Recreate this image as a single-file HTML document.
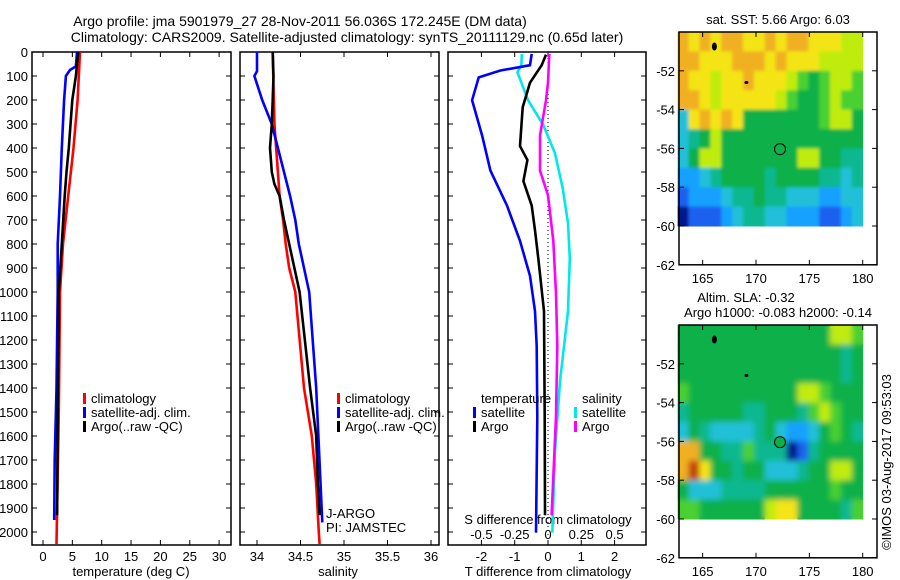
<!DOCTYPE html>
<html><head><meta charset="utf-8"><style>
body{margin:0;background:#fff;}
svg{display:block;font-family:"Liberation Sans",sans-serif;}
text{font-size:13px;fill:#000;}
</style></head><body>
<svg id="c" width="900" height="580" viewBox="0 0 900 580">
<defs>
<filter id="b1" x="-0.1" y="-0.1" width="1.2" height="1.2"><feGaussianBlur stdDeviation="1.5"/></filter>
<filter id="b2" x="-0.1" y="-0.1" width="1.2" height="1.2"><feGaussianBlur stdDeviation="3"/></filter>
</defs>
<text x="300" y="26" text-anchor="middle" style="font-size:14px">Argo profile: jma 5901979_27 28-Nov-2011 56.036S 172.245E (DM data)</text>
<text x="347" y="42" text-anchor="middle" style="font-size:14px">Climatology: CARS2009. Satellite-adjusted climatology: synTS_20111129.nc (0.65d later)</text>
<g id="g"></g>
</svg>
<script>
// ---- profile data (depth in m) ----
const tClimDepth=[0,200,400,600,800,1000,1500,2050];
const tClim=[6.3,5.9,5.2,4.3,3.4,2.9,2.7,2.3];
const tSatDepth=[0,60,75,100,200,400,600,800,1000,1400,1700,1950];
const tSat=[5.8,5.6,4.6,3.9,3.6,3.2,2.9,2.5,2.5,2.3,2.0,1.9];
const tArgoDepth=[0,100,200,400,500,600,800,1000,1500,1930];
const tArgo=[6.0,5.6,5.0,4.4,4.0,3.7,3.2,2.7,2.5,2.4];
const sClimDepth=[0,300,500,600,700,800,900,1000,1400,1600,1800,2000,2050];
const sClim=[34.18,34.2,34.24,34.26,34.3,34.33,34.37,34.44,34.54,34.63,34.68,34.71,34.72];
const sSatDepth=[0,80,100,200,300,400,500,600,700,800,900,1000,1400,1960];
const sSat=[34.0,34.0,33.97,34.06,34.17,34.24,34.31,34.38,34.44,34.48,34.54,34.6,34.68,34.75];
const sArgoDepth=[0,100,200,300,400,500,550,600,700,800,900,1000,1400,1600,1800,1930];
const sArgo=[34.18,34.19,34.18,34.17,34.15,34.17,34.2,34.26,34.31,34.37,34.43,34.49,34.61,34.68,34.7,34.72];
const dTSatDepth=[8,55,77,106,201,348,494,640,787,933,1080,1226,1520,2003];
const dTSat=[-0.49,-0.54,-1.43,-2.08,-2.28,-1.98,-1.73,-1.23,-0.84,-0.54,-0.39,-0.34,-0.32,-0.36];
const dTArgoDepth=[11,55,128,230,392,450,538,640,743,860,1080,1520,1930];
const dTArgo=[-0.06,-0.19,-0.54,-0.76,-0.84,-0.62,-0.74,-0.49,-0.39,-0.29,-0.12,-0.1,-0.09];
const dSSatDepth=[8,55,84,128,201,304,421,567,713,860,1080,1373,1666,2003];
const dSSat=[-0.197,-0.2,-0.23,-0.2,-0.15,-0.035,0.052,0.11,0.15,0.164,0.15,0.09,0.052,0.032];
const dSArgoDepth=[8,128,201,348,494,597,787,1006,1226,1520,1930];
const dSArgo=[0.01,0,-0.015,-0.06,-0.06,0,0.04,0.06,0.07,0.06,0.027];
const depthTicks=[0,100,200,300,400,500,600,700,800,900,1000,1100,1200,1300,1400,1500,1600,1700,1800,1900,2000];
const tTicks=[0,5,10,15,20,25,30];
const sTicks=[34,34.5,35,35.5,36];
const dTTicks=[-2,-1,0,1,2];
const dSTicks=[-0.5,-0.25,0,0.25,0.5];
const dSTickLabels=["-0.5","-0.25","0","0.25","0.5"];
// ---- map grids (rows lat -50..-60, cols lon 162.66..180), colour level 0-10 ----
const sstGrid=["98989988989988877","99888999898887777","98878898887656776","99878888876556766","38989855555556775","34575555555555555","35775555555775544","22345555455554434","12223445443332233","01112344332221123"];
const slaGrid=["55555555555555776","55555555555555545","55555555555555545","65555555555776555","45555544555467655","35433334532235654","99554464440145555","9A855455333455775","53334444555555655","66555555788555546"];
const palette=["#00188c","#1a60f0","#18a0ff","#20c0d8","#10b890","#0cb048","#48d030","#c0ec10","#f4e418","#f0b020","#c04010"];

const NS="http://www.w3.org/2000/svg";
const G=document.getElementById('g');
function mk(tag,a,parent){const e=document.createElementNS(NS,tag);for(const k in a)e.setAttribute(k,a[k]);(parent||G).appendChild(e);return e;}
function txt(x,y,s,anchor,parent){const t=mk('text',{x:x,y:y,'text-anchor':anchor||'middle'},parent);t.textContent=s;return t;}
const yD=d=>52+d*0.24;
function stepLine(xs,ds,fx,color,name){
  let p=[];for(let i=0;i<xs.length;i++){p.push(fx(xs[i]).toFixed(1)+','+yD(ds[i]).toFixed(1));}
  const l=mk('polyline',{points:p.join(' '),fill:'none',stroke:color,'stroke-width':2.6,'stroke-linejoin':'miter'});
  
  
}
function panel(x0,x1,name){
  const g=mk('g',{});
  
  
  mk('rect',{x:x0,y:52,width:x1-x0,height:493,fill:'none',stroke:'#000','stroke-width':1.5},g);
  depthTicks.forEach(d=>{const y=yD(d);mk('line',{x1:x0,x2:x0+5,y1:y,y2:y,stroke:'#000'},g);mk('line',{x1:x1-5,x2:x1,y1:y,y2:y,stroke:'#000'},g);});
  return g;
}
function xticks(g,ticks,labels,fx,ylab){
  ticks.forEach((v,i)=>{const x=fx(v);mk('line',{x1:x,x2:x,y1:545,y2:540,stroke:'#000'},g);mk('line',{x1:x,x2:x,y1:52,y2:57,stroke:'#000'},g);if(labels)txt(x,ylab,labels[i],'middle',g);});
}
// Panel 1
const fT=v=>43+5.87*v;
let p1=panel(32,231,'temperature-panel');
depthTicks.forEach(d=>{const t=txt(28,yD(d)+5,String(d),'end');});
xticks(p1,tTicks,tTicks.map(String),fT,561);
txt(131,576,'temperature (deg C)','middle',p1);
stepLine(tClim,tClimDepth,fT,'#f00','temp-climatology-line');
stepLine(tSat,tSatDepth,fT,'#00f','temp-satellite-line');
stepLine(tArgo,tArgoDepth,fT,'#000','temp-argo-line');
function legend(x,y,items,parent){items.forEach((it,i)=>{mk('rect',{x:x,y:y+i*14-10,width:3,height:11,fill:it[1]},parent);txt(x+8,y+i*14,it[0],'start',parent);});}
const lg1=mk('g',{});
legend(83,403,[['climatology','#f00'],['satellite-adj. clim.','#00f'],['Argo(..raw -QC)','#000']],lg1);
// Panel 2
const fS=v=>257+87*(v-34);
let p2=panel(240,439,'salinity-panel');
xticks(p2,sTicks,sTicks.map(String),fS,561);
txt(338,576,'salinity','middle',p2);
stepLine(sClim,sClimDepth,fS,'#f00','sal-climatology-line');
stepLine(sSat,sSatDepth,fS,'#00f','sal-satellite-line');
stepLine(sArgo,sArgoDepth,fS,'#000','sal-argo-line');
const lg2=mk('g',{});
legend(337,403,[['climatology','#f00'],['satellite-adj. clim.','#00f'],['Argo(..raw -QC)','#000']],lg2);
txt(326,518,'J-ARGO','start',p2);txt(326,532,'PI: JAMSTEC','start',p2);
// Panel 3
const fDT=v=>548+33.3*v, fDS=v=>548+133.2*v;
let p3=panel(448,646,'difference-panel');
xticks(p3,dTTicks,dTTicks.map(String),fDT,561);
dSTicks.forEach((v,i)=>txt(fDS(v),539,dSTickLabels[i],'middle',p3));
txt(548,524,'S difference from climatology','middle',p3);
txt(548,576,'T difference from climatology','middle',p3);
mk('line',{x1:548,x2:548,y1:54,y2:543,stroke:'#000','stroke-dasharray':'1,3'},p3);
stepLine(dSSat,dSSatDepth,fDS,'#00e8e8','sal-diff-satellite-line');
stepLine(dSArgo,dSArgoDepth,fDS,'#f0f','sal-diff-argo-line');
stepLine(dTSat,dTSatDepth,fDT,'#00f','temp-diff-satellite-line');
stepLine(dTArgo,dTArgoDepth,fDT,'#000','temp-diff-argo-line');
const lg3=mk('g',{});
txt(481,403,'temperature','start',lg3);txt(582,403,'salinity','start',lg3);
legend(473,417,[['satellite','#00f'],['Argo','#000']],lg3);
legend(574,417,[['satellite','#00e8e8'],['Argo','#f0f']],lg3);
// Maps
let mapCount=0;
function map(top,grid,name,filledCircle,blur){
  const g=mk('g',{});
  const fx=lon=>756+10.67*(lon-170), fy=lat=>top+19.4*(-50-lat);
  const nc=grid[0].length, lon0=162.66, dl=(180-lon0)/nc;
  const cid='clip'+(mapCount++);
  const cp=mk('clipPath',{id:cid},g);
  mk('rect',{x:fx(lon0),y:fy(-50),width:fx(180)-fx(lon0),height:fy(-60)-fy(-50)},cp);
  function drawCells(parent){
    grid.forEach((row,r)=>{for(let c=0;c<nc;c++){const v=parseInt(row[c],16);
      const cell=mk('rect',{x:fx(lon0+c*dl),y:fy(-50-r),width:fx(lon0+(c+1)*dl)-fx(lon0+c*dl)+0.5,height:19.9,fill:palette[v]},parent);
      
      }});
  }
  const base=mk('g',{},g);drawCells(base);
  const clipG=mk('g',{'clip-path':'url(#'+cid+')'},g);
  const cg=mk('g',{filter:'url(#'+blur+')'},clipG);drawCells(cg);
  mk('rect',{x:679,y:top,width:198,height:fy(-62)-top,fill:'none',stroke:'#000','stroke-width':1.5},g);
  [165,170,175,180].forEach(l=>{const x=fx(l);mk('line',{x1:x,x2:x,y1:fy(-62),y2:fy(-62)-5,stroke:'#000'},g);mk('line',{x1:x,x2:x,y1:top,y2:top+5,stroke:'#000'},g);txt(x,fy(-62)+18,String(l),'middle',g);});
  [-52,-54,-56,-58,-60,-62].forEach(l=>{const y=fy(l);mk('line',{x1:679,x2:684,y1:y,y2:y,stroke:'#000'},g);mk('line',{x1:872,x2:877,y1:y,y2:y,stroke:'#000'},g);txt(675,y+5,String(l),'end',g);});
  mk('ellipse',{cx:fx(166.1),cy:fy(-50.75),rx:2.5,ry:4,fill:'#000'},g);
  mk('ellipse',{cx:fx(169.1),cy:fy(-52.6),rx:2,ry:1.5,fill:'#000'},g);
  const ci=mk('circle',{cx:fx(172.25),cy:fy(-56.04),r:5.5,fill:filledCircle?'#0cb048':'none',stroke:'#000','stroke-width':1},g);
  
  return g;
}
map(32,sstGrid,'sst-map',false,'b1');
map(325,slaGrid,'sla-map',true,'b2');
txt(778,24,'sat. SST: 5.66 Argo: 6.03');
txt(746,302,'Altim. SLA: -0.32');
txt(778,317,'Argo h1000: -0.083 h2000: -0.14');
const cr=txt(0,0,'©IMOS 03-Aug-2017 09:53:03','middle');
cr.setAttribute('transform','translate(891,462) rotate(-90)');


</script>
</body></html>
